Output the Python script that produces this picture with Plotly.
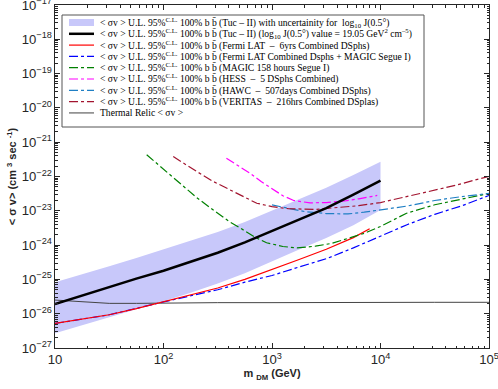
import plotly.graph_objects as go

# masses (GeV) and <sigma v> (cm^3 s^-1)
m_tuc = [10, 17.8, 31.6, 56.2, 100, 178, 316, 562, 1000, 1778, 3162, 5623, 10000]
sv_tuc = [1.9e-26, 3.4e-26, 6.0e-26, 1.05e-25, 1.78e-25, 3.2e-25, 6.0e-25, 1.2e-24,
          2.6e-24, 5.6e-24, 1.2e-23, 2.95e-23, 7.6e-23]
sv_tuc_hi = [8.3e-26, 1.4e-25, 2.4e-25, 4.2e-25, 7.4e-25, 1.3e-24, 2.4e-24, 4.7e-24,
             1.0e-23, 2.1e-23, 4.7e-23, 1.1e-22, 2.7e-22]
sv_tuc_lo = [2.7e-27, 4.6e-27, 7.9e-27, 1.35e-26, 2.3e-26, 4.1e-26, 7.6e-26, 1.5e-25,
             3.4e-25, 7.4e-25, 1.6e-24, 3.8e-24, 1.05e-23]

m_fermi = [10, 17.8, 31.6, 56.2, 100, 178, 316, 562, 1000, 1778, 3162, 5623, 7943]
sv_fermi = [5.2e-27, 6.8e-27, 9.3e-27, 1.4e-26, 2.2e-26, 3.5e-26, 5.6e-26, 1.0e-25,
            1.9e-25, 3.8e-25, 7.6e-25, 1.65e-24, 3.0e-24]

m_fermi_magic = [10, 31.6, 100, 178, 316, 562, 1000, 1778, 3162, 5623, 10000, 17783,
                 31623, 56234, 100000]
sv_fermi_magic = [5.2e-27, 9.3e-27, 2.2e-26, 3.3e-26, 5.0e-26, 8.3e-26, 1.3e-25, 2.3e-25,
                  4.0e-25, 8.3e-25, 1.8e-24, 4.0e-24, 7.9e-24, 1.4e-23, 2.8e-23]

m_magic = [70, 100, 141, 200, 288, 398, 513, 708, 891, 1259, 1698, 2512, 3548, 5012,
           7079, 10000, 17378, 31623, 56234, 100000]
sv_magic = [4.3e-22, 1.66e-22, 6.3e-23, 2.5e-23, 1.05e-23, 5.0e-24, 3.1e-24, 1.66e-24,
            1.17e-24, 9.1e-25, 8.3e-25, 9.3e-25, 1.12e-24, 1.58e-24, 2.2e-24, 3.5e-24,
            8.5e-24, 1.5e-23, 2.2e-23, 3.2e-23]

m_hess = [380, 501, 631, 794, 1000, 1259, 1585, 2239, 3162, 4467, 6310, 9333]
sv_hess = [3.4e-22, 1.9e-22, 1.23e-22, 7.1e-23, 4.3e-23, 2.75e-23, 2.0e-23, 1.7e-23,
           1.74e-23, 1.9e-23, 2.24e-23, 2.8e-23]

m_hawc = [1000, 1413, 1995, 3162, 5012, 7079, 10000, 17783, 31623, 56234, 100000]
sv_hawc = [1.48e-23, 1.17e-23, 9.5e-24, 8.3e-24, 8.1e-24, 9.1e-24, 1.07e-23, 1.38e-23,
           2.0e-23, 2.6e-23, 3.2e-23]

m_veritas = [123, 158, 204, 282, 407, 562, 724, 1000, 1413, 2512, 4266, 6310, 10000,
             15849, 22909, 35481, 50119, 70795, 100000]
sv_veritas = [3.8e-22, 2.24e-22, 1.38e-22, 7.4e-23, 4.1e-23, 2.5e-23, 1.66e-23, 1.32e-23,
              1.15e-23, 1.1e-23, 1.26e-23, 1.41e-23, 1.74e-23, 2.4e-23, 3.2e-23, 4.4e-23,
              5.6e-23, 7.6e-23, 1.0e-22]

m_relic = [10, 17.8, 31.6, 56.2, 100, 316, 1000, 3162, 10000, 31623, 100000]
sv_relic = [2.5e-26, 2.2e-26, 2.0e-26, 2.0e-26, 2.05e-26, 2.1e-26, 2.1e-26, 2.15e-26,
            2.2e-26, 2.15e-26, 2.15e-26]

pre = "&lt; σv &gt; U.L. 95%<sup>C.L.</sup> 100% b b\u0304 "
legend_names = [
    pre + "(Tuc – II) with uncertainity for  log<sub>10</sub> J(0.5°)",
    pre + "(Tuc – II) (log<sub>10</sub> J(0.5°) value = 19.05 GeV<sup>2</sup> cm<sup>–5</sup>)",
    pre + "(Fermi LAT  –  6yrs Combined DSphs)",
    pre + "(Fermi LAT Combined Dsphs + MAGIC Segue I)",
    pre + "(MAGIC 158 hours Segue I)",
    pre + "(HESS  –  5 DSphs Combined)",
    pre + "(HAWC  –  507days Combined DSphs)",
    pre + "(VERITAS  –  216hrs Combined DSplas)",
    "Thermal Relic &lt; σv &gt;",
]
# legend sample styles: (color, width, dash); None -> filled band
legend_styles = [
    None,
    ('black', 2.5, 'solid'),
    ('#ff0000', 1.2, 'solid'),
    ('#0000ff', 1.2, 'dashdot'),
    ('#008000', 1.2, 'dashdot'),
    ('#ff00ff', 1.2, 'dashdot'),
    ('#1f7fc4', 1.2, 'dashdot'),
    ('#a2142f', 1.2, 'dashdot'),
    ('#808080', 1.5, 'solid'),
]
band_color = 'rgb(200,200,250)'

fig = go.Figure()

fig.add_trace(go.Scatter(x=m_tuc, y=sv_tuc_lo, mode='lines', line=dict(width=0),
                         hoverinfo='skip'))
fig.add_trace(go.Scatter(x=m_tuc, y=sv_tuc_hi, mode='lines', line=dict(width=0),
                         fill='tonexty', fillcolor=band_color))
fig.add_trace(go.Scatter(x=m_relic, y=sv_relic, mode='lines',
                         line=dict(color='#444444', width=1)))
fig.add_trace(go.Scatter(x=m_fermi_magic, y=sv_fermi_magic, mode='lines',
                         line=dict(color='#0000ff', width=1.2, dash='dashdot')))
fig.add_trace(go.Scatter(x=m_fermi, y=sv_fermi, mode='lines',
                         line=dict(color='#ff0000', width=1.2)))
fig.add_trace(go.Scatter(x=m_magic, y=sv_magic, mode='lines',
                         line=dict(color='#008000', width=1.2, dash='dashdot')))
fig.add_trace(go.Scatter(x=m_hess, y=sv_hess, mode='lines',
                         line=dict(color='#ff00ff', width=1.2, dash='dashdot')))
fig.add_trace(go.Scatter(x=m_hawc, y=sv_hawc, mode='lines',
                         line=dict(color='#1f7fc4', width=1.2, dash='dashdot')))
fig.add_trace(go.Scatter(x=m_veritas, y=sv_veritas, mode='lines',
                         line=dict(color='#a2142f', width=1.2, dash='dashdot')))
fig.add_trace(go.Scatter(x=m_tuc, y=sv_tuc, mode='lines',
                         line=dict(color='black', width=2.5)))

# compact boxed legend (plotly's own legend rows are too tall here)
W, H = 498, 389
ML, MR, MT, MB = 55, 9, 5, 41
pw, ph = W - ML - MR, H - MT - MB


def px(xp):
    return (xp - ML) / pw


def py(yp):
    return (H - MB - yp) / ph


shapes = [dict(type='rect', xref='paper', yref='paper', x0=px(62), x1=px(424),
               y0=py(127), y1=py(15), fillcolor='white',
               line=dict(color='#555', width=1), layer='above')]
annotations = []
row0, row_step = 22.5, 11.3
for i, (name, style) in enumerate(zip(legend_names, legend_styles)):
    yc = row0 + i * row_step
    if style is None:
        shapes.append(dict(type='rect', xref='paper', yref='paper', x0=px(69), x1=px(94),
                           y0=py(yc + 3.5), y1=py(yc - 3.5), fillcolor=band_color,
                           line=dict(width=0), layer='above'))
    else:
        color, width, dash = style
        shapes.append(dict(type='line', xref='paper', yref='paper', x0=px(69), x1=px(94),
                           y0=py(yc), y1=py(yc), layer='above',
                           line=dict(color=color, width=width, dash=dash)))
    annotations.append(dict(text=name, xref='paper', yref='paper', x=px(98), y=py(yc),
                            xanchor='left', yanchor='middle', showarrow=False,
                            font=dict(family='Liberation Serif', size=9.6, color='black')))

axis_common = dict(
    type='log', dtick=1, exponentformat='power', showgrid=False, zeroline=False,
    showline=True, linecolor='#262626', linewidth=1, mirror='allticks',
    ticks='inside', ticklen=5, tickcolor='#262626', automargin=False,
    ticklabeloverflow='allow',
    minor=dict(ticks='inside', ticklen=2.5, tickcolor='#262626', showgrid=False),
    tickfont=dict(family='Liberation Sans', size=10.5, color='#262626'),
)

fig.update_layout(
    width=W, height=H,
    margin=dict(l=ML, r=MR, t=MT, b=MB, autoexpand=False),
    paper_bgcolor='white', plot_bgcolor='white',
    showlegend=False,
    xaxis=dict(axis_common, range=[1, 5],
               title=dict(text='<b>m <sub>DM</sub> (GeV)</b>', standoff=2,
                          font=dict(family='Liberation Sans', size=11, color='#262626'))),
    yaxis=dict(axis_common, range=[-27, -17],
               title=dict(text='<b>&lt; σ v&gt; (cm <sup>3</sup> sec <sup>-1</sup>)</b>',
                          standoff=2,
                          font=dict(family='Liberation Sans', size=11, color='#262626'))),
    shapes=shapes,
    annotations=annotations,
)

# the page's default body margin would shift the figure by 8 px
fig.write_html("out.html", config={'displayModeBar': False},
               post_script="document.body.style.margin = '0';")
